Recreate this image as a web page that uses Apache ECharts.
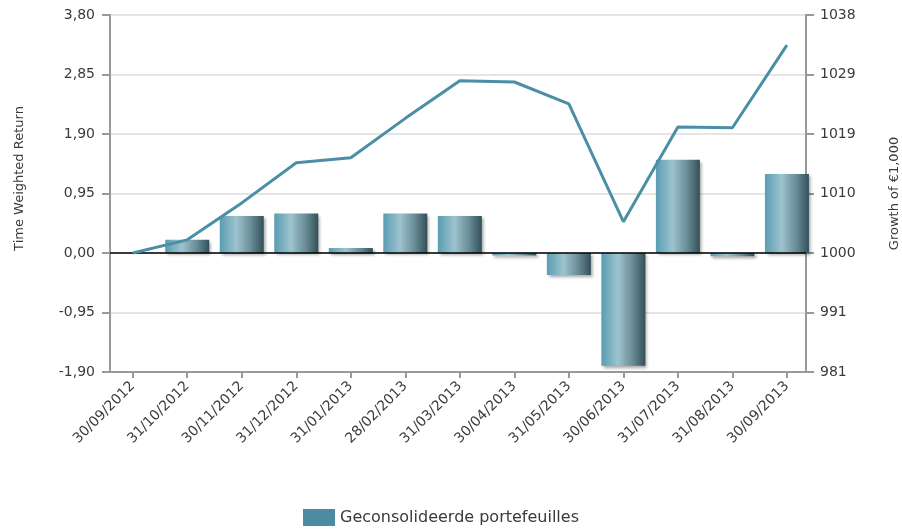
<!DOCTYPE html>
<html>
<head>
<meta charset="utf-8">
<script src="https://cdn.jsdelivr.net/npm/echarts@6/dist/echarts.min.js"></script>
<style>
  html, body { margin: 0; padding: 0; background: #fff; }
  #main { width: 902px; height: 532px; }
</style>
</head>
<body>
<div id="main"></div>
<script>
// maanddata
const dates = ["30/09/2012", "31/10/2012", "30/11/2012", "31/12/2012", "31/01/2013", "28/02/2013",
  "31/03/2013", "30/04/2013", "31/05/2013", "30/06/2013", "31/07/2013", "31/08/2013", "30/09/2013"];
const returns = [null, 0.21, 0.59, 0.63, 0.08, 0.63, 0.59, -0.04, -0.35, -1.80, 1.49, -0.05, 1.26];
const growth = [1000, 1002.1, 1008.0, 1014.4, 1015.2, 1021.5, 1027.5, 1027.3, 1023.8, 1005.0, 1020.1, 1020.0, 1033.2];

const twrMin = -1.9, twrMax = 3.8, twrStep = 0.95;
const gMin = 981, gMax = 1038, gStep = 9.5;

const font = "DejaVu Sans";
const txt = "#3a3a3a";

let chart = echarts.init(document.getElementById("main"));
let option = {
  animation: false,
  textStyle: { fontFamily: font },
  grid: { left: 110, top: 15, width: 696, height: 357, outerBoundsMode: "none", containLabel: false },
  legend: {
    left: 298,
    top: 504,
    icon: "rect",
    itemWidth: 32,
    itemHeight: 17,
    itemGap: 8,
    data: [{ name: "Geconsolideerde portefeuilles", itemStyle: { color: "#4b8ca1", shadowBlur: 0, shadowOffsetX: 0, shadowOffsetY: 0 } }],
    textStyle: { fontFamily: font, fontSize: 16, color: txt },
  },
  xAxis: {
    type: "value",
    min: -0.417,
    max: 12.35,
    splitLine: { show: false },
    axisLine: { onZero: false, lineStyle: { color: "#999", width: 2 } },
    axisTick: {
      show: true,
      length: 6,
      customValues: dates.map((d, i) => i),
      lineStyle: { color: "#999", width: 2 },
    },
    axisLabel: {
      customValues: dates.map((d, i) => i),
      rotate: 45,
      margin: 12,
      fontSize: 14,
      color: txt,
      formatter: (v) => dates[Math.round(v)],
    },
  },
  yAxis: [
    {
      type: "value",
      min: twrMin,
      max: twrMax,
      interval: twrStep,
      name: "Time Weighted Return",
      nameLocation: "middle",
      nameGap: 84,
      nameTextStyle: { fontSize: 13, color: txt, fontFamily: font, padding: [0, 0, 0, 30] },
      axisLine: { show: true, onZero: false, lineStyle: { color: "#999", width: 2 } },
      axisTick: { show: true, length: 8, lineStyle: { color: "#999", width: 2 } },
      axisLabel: {
        margin: 15,
        fontSize: 14,
        color: txt,
        formatter: (v) => v.toFixed(2).replace(".", ","),
      },
      splitLine: { show: true, lineStyle: { color: "#dcdcdc", width: 1.5 } },
    },
    {
      type: "value",
      position: "right",
      min: gMin,
      max: gMax,
      interval: gStep,
      name: "Growth of €1,000",
      nameLocation: "middle",
      nameGap: 82,
      nameTextStyle: { fontSize: 13, color: txt, fontFamily: font },
      axisLine: { show: true, onZero: false, lineStyle: { color: "#999", width: 2 } },
      axisTick: { show: true, length: 8, lineStyle: { color: "#999", width: 2 } },
      axisLabel: {
        margin: 14,
        fontSize: 14,
        color: txt,
        formatter: (v) => String(Math.round(v)),
      },
      splitLine: { show: false },
    },
  ],
  series: [
    {
      name: "Geconsolideerde portefeuilles",
      type: "bar",
      yAxisIndex: 0,
      barWidth: 44,
      data: returns.map((v, i) => [i, v]),
      itemStyle: {
        color: new echarts.graphic.LinearGradient(1, 0, 0, 0, [
          { offset: 0, color: "#33505a" },
          { offset: 0.3, color: "#6b8e98" },
          { offset: 0.62, color: "#9dc3ce" },
          { offset: 1, color: "#5a9db2" },
        ]),
        shadowColor: "rgba(0,0,0,0.35)",
        shadowBlur: 3,
        shadowOffsetX: 2,
        shadowOffsetY: 2,
      },
      markLine: {
        silent: true,
        symbol: "none",
        label: { show: false },
        lineStyle: { color: "#000", width: 1.5, type: "solid" },
        data: [{ yAxis: 0 }],
      },
    },
    {
      name: "Growth",
      type: "line",
      yAxisIndex: 1,
      data: growth.map((v, i) => [i, v]),
      symbol: "none",
      z: 5,
      lineStyle: { color: "#4b8fa6", width: 3 },
      itemStyle: { color: "#4b8fa6" },
    },
  ],
};
chart.setOption(option);
</script>
</body>
</html>
